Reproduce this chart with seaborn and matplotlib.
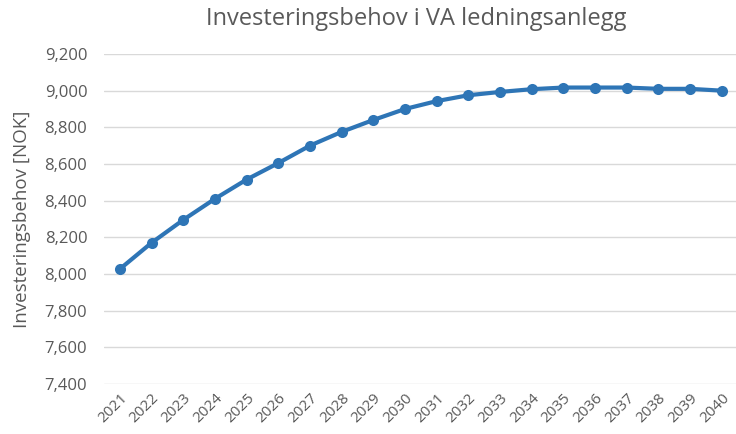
import matplotlib
matplotlib.use('Agg')
import matplotlib.pyplot as plt
import matplotlib.ticker as mticker
import seaborn as sns
import pandas as pd

years = list(range(2021, 2041))
behov = [8027, 8170, 8295, 8410, 8515, 8605, 8700, 8775, 8840, 8900,
         8943, 8975, 8993, 9008, 9017, 9017, 9017, 9010, 9010, 9000]

df = pd.DataFrame({'year': years, 'behov': behov})

sns.set_theme(style='white')
plt.rcParams['font.family'] = ['Open Sans', 'DejaVu Sans']
grey = '#595959'

fig = plt.figure(figsize=(7.36, 4.34), dpi=100)
ax = fig.add_axes([104 / 736, 1 - 384 / 434, 1 - 104 / 736, (384 - 54) / 434])

sns.lineplot(data=df, x='year', y='behov', ax=ax, color='#2E75B6',
             linewidth=3, marker='o', markersize=8, markeredgewidth=0)

ax.set_ylim(7400, 9200)
ax.set_xlim(2020.5, 2040.45)
ax.yaxis.set_major_locator(mticker.MultipleLocator(200))
ax.yaxis.set_major_formatter(mticker.FuncFormatter(lambda v, p: f'{int(v):,}'))
ax.set_xticks(years)
ax.set_xticklabels([str(y) for y in years], rotation=45, ha='right',
                   rotation_mode='anchor', fontsize=11, color=grey)
for lab in ax.get_yticklabels():
    lab.set_fontsize(12)
    lab.set_color(grey)
ax.tick_params(axis='y', length=0, pad=12)
ax.tick_params(axis='x', length=0, pad=5)
ax.grid(axis='y', color='#D9D9D9', linewidth=1)
ax.set_axisbelow(True)
for s in ax.spines.values():
    s.set_visible(False)

ax.set_xlabel('')
ax.set_ylabel('Investeringsbehov [NOK]', fontsize=13.5, color=grey, labelpad=10)
fig.suptitle('Investeringsbehov i VA ledningsanlegg', fontsize=17, color=grey,
             x=0.565, y=0.985)

fig.savefig('out.png', dpi=100)
